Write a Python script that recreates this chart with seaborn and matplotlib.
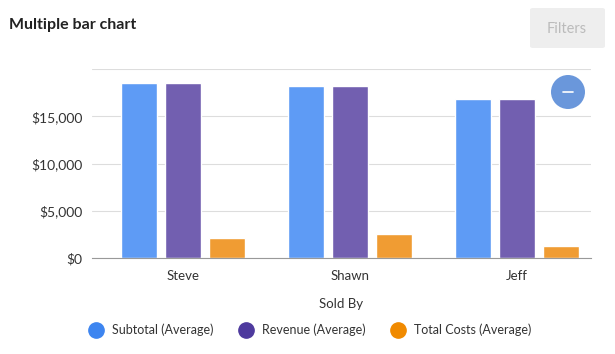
import pandas as pd
import seaborn as sns
import matplotlib.pyplot as plt
from matplotlib.patches import FancyBboxPatch, Circle
from matplotlib.lines import Line2D
from matplotlib.ticker import FuncFormatter

# data
sellers = ["Steve", "Shawn", "Jeff"]
subtotal = [18500, 18200, 16850]
revenue = [18500, 18200, 16850]
total_costs = [2150, 2500, 1230]
series_names = ["Subtotal (Average)", "Revenue (Average)", "Total Costs (Average)"]

bar_colors = ["#5E9BF5", "#725FB0", "#F09C33"]
legend_colors = ["#3D85F0", "#4E3A9E", "#F08A00"]
textcolor = "#333333"

rows = []
for name, vals in zip(series_names, [subtotal, revenue, total_costs]):
    for s, v in zip(sellers, vals):
        rows.append({"Sold By": s, "value": v, "series": name})
df = pd.DataFrame(rows)

sns.set_theme(style="white")
plt.rcParams["font.family"] = ["Lato", "DejaVu Sans"]

fig = plt.figure(figsize=(6.15, 3.54), dpi=100)
ax = fig.add_axes([92 / 615, 1 - 258 / 354, 499 / 615, 189 / 354])

sns.barplot(data=df, x="Sold By", y="value", hue="series", order=sellers,
            hue_order=series_names, palette=bar_colors, width=0.79, gap=0.2,
            saturation=1, legend=False, ax=ax)

ax.set_xlim(-0.545, 2.443)
ax.set_ylim(0, 20000)
ax.set_yticks([0, 5000, 10000, 15000, 20000])
ax.yaxis.set_major_formatter(FuncFormatter(lambda v, p: "" if v == 20000 else f"${v:,.0f}"))
ax.grid(axis="y", color="#dddddd", linewidth=0.8)
ax.set_axisbelow(True)
for sp in ["top", "right", "left"]:
    ax.spines[sp].set_visible(False)
ax.spines["bottom"].set_color("#999999")
ax.spines["bottom"].set_linewidth(0.8)
ax.tick_params(axis="y", length=0, labelsize=10, colors=textcolor, pad=7)
ax.tick_params(axis="x", length=0, labelsize=9.5, colors=textcolor, pad=9)
ax.set_ylabel("")
ax.set_xlabel("Sold By", fontsize=9.5, color=textcolor, labelpad=11)

# title and filters button
fig.text(0.015, 0.93, "Multiple bar chart", fontsize=11.5, fontweight="bold",
         color="#222222", va="center")
btn = FancyBboxPatch((530 / 615, 1 - 48 / 354), 75 / 615, 40 / 354,
                     boxstyle="round,pad=0,rounding_size=0.005",
                     transform=fig.transFigure, facecolor="#eeeeee",
                     edgecolor="none")
fig.patches.append(btn)
fig.text(567 / 615, 1 - 29 / 354, "Filters", fontsize=10.5, color="#bbbbbb",
         ha="center", va="center")

# minus button
circ = Circle((5.68, (354 - 92) / 100), 0.17, transform=fig.dpi_scale_trans,
              facecolor="#6A97DB", edgecolor="none")
fig.patches.append(circ)
fig.add_artist(Line2D([563 / 615, 573 / 615], [1 - 92 / 354, 1 - 92 / 354],
                      transform=fig.transFigure, color="white", linewidth=1.2))

# legend
handles = [Line2D([0], [0], marker="o", linestyle="", markersize=11,
                  markerfacecolor=c, markeredgecolor=c) for c in legend_colors]
fig.legend(handles, series_names, loc="center", bbox_to_anchor=(0.5, 1 - 330 / 354),
           ncol=3, frameon=False, fontsize=9, handletextpad=0.3,
           columnspacing=1.6, labelcolor=textcolor)

fig.savefig("out.png", dpi=100)
